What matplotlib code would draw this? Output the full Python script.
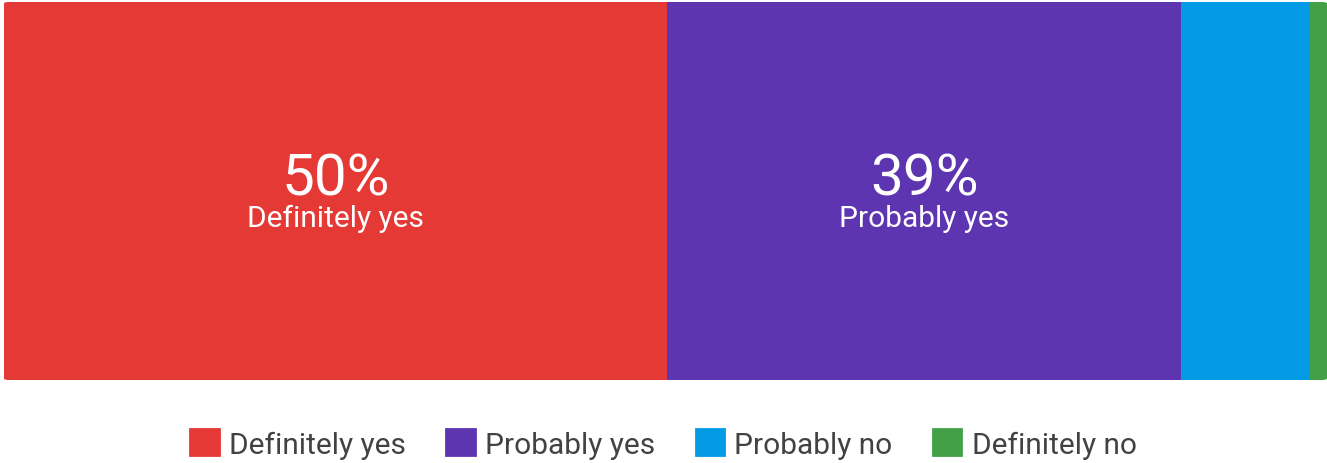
import matplotlib.pyplot as plt
from matplotlib.patches import Patch, FancyBboxPatch

plt.rcParams['font.family'] = ['Roboto', 'DejaVu Sans']

answers = ['Definitely yes', 'Probably yes', 'Probably no', 'Definitely no']
shares = [50.1, 38.9, 9.7, 1.3]
colors = ['#E53935', '#5E35B1', '#039BE5', '#43A047']
show_label = [True, True, False, False]

fig = plt.figure(figsize=(13.27, 4.64), dpi=100)
ax = fig.add_axes([4 / 1327, 1 - 381 / 464, 1 - 4 / 1327, 378 / 464])

left = 0
bars = []
for name, val, col, lab in zip(answers, shares, colors, show_label):
    b = ax.barh(0, val, left=left, height=1, color=col, linewidth=0)
    bars.append(b[0])
    if lab:
        ax.text(left + val / 2, -0.008, f'{round(val)}%', color='white',
                fontsize=42, ha='center', va='baseline')
        ax.text(left + val / 2, -0.092, name, color='white',
                fontsize=21.5, ha='center', va='baseline')
    left += val

ax.set_xlim(0, sum(shares))
ax.set_ylim(-0.5, 0.5)
ax.axis('off')

# rounded corners
clip = FancyBboxPatch((0, 0), 1, 1, boxstyle='round,pad=0,rounding_size=0.004',
                      transform=ax.transAxes, facecolor='none', edgecolor='none')
ax.add_patch(clip)
for b in bars:
    b.set_clip_path(clip)

handles = [Patch(facecolor=c, edgecolor=c, linewidth=2, joinstyle='round') for c in colors]
fig.legend(handles, answers, loc='center', bbox_to_anchor=(0.5, 1 - 445 / 464),
           ncol=4, frameon=False, fontsize=21.5, labelcolor='#424242',
           handlelength=0.95, handleheight=0.95, handletextpad=0.35,
           columnspacing=1.35)

fig.savefig('out.png', dpi=100)
